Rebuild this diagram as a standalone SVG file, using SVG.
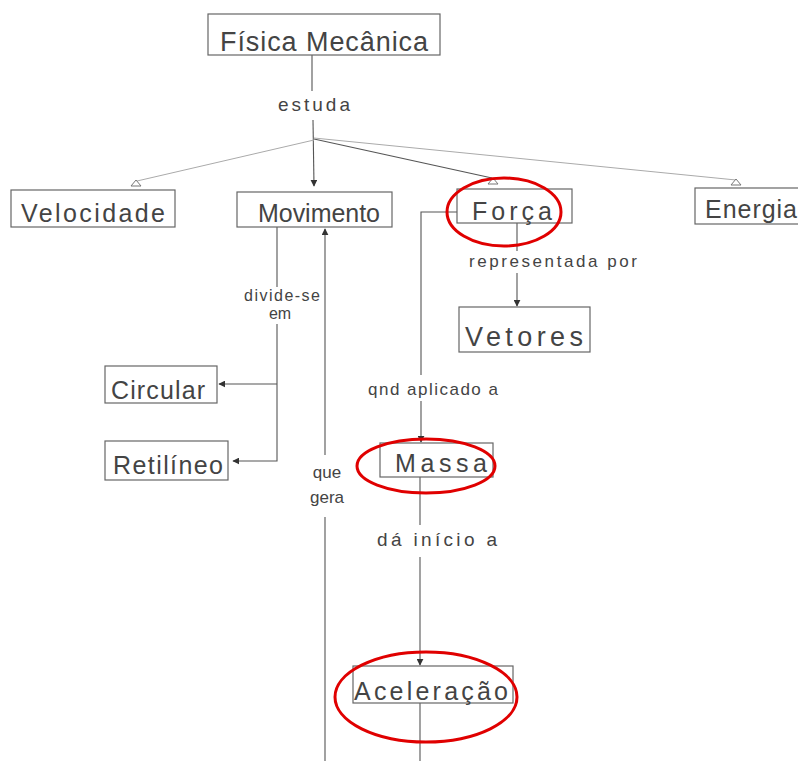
<svg xmlns="http://www.w3.org/2000/svg" width="798" height="761" viewBox="0 0 798 761">
  <style>
    .box { fill: none; stroke: #666; stroke-width: 1.2; }
    .node { font-family: "Liberation Sans", "DejaVu Sans", sans-serif; font-size: 25px; fill: #444; }
    .lbl { font-family: "Liberation Sans", "DejaVu Sans", sans-serif; font-size: 17px; fill: #444; }
    .big { font-size: 27px; }
    .mid { font-size: 19px; }
    .small { font-size: 16px; }
    .ln { fill: none; stroke: #555; stroke-width: 1.1; }
    .faint { fill: none; stroke: #aaa; stroke-width: 1; }
    .open { fill: #fff; stroke: #777; stroke-width: 1; }
    .mark { fill: none; stroke: #e00000; stroke-width: 3; }
  </style>
  <defs>
    <marker id="tip" viewBox="0 0 10 10" refX="9" refY="5" markerWidth="7" markerHeight="7" markerUnits="userSpaceOnUse" orient="auto">
      <path d="M0,0 L10,5 L0,10 Z" fill="#333"/>
    </marker>
    <path id="tri" d="M-5,3 L5,3 L0,-3 Z"/>
  </defs>
  <rect width="798" height="761" fill="#fff"/>

  <!-- connectors -->
  <g id="connectors">
    <!-- Física Mecânica -> estuda -> branches -->
    <line class="ln" x1="312" y1="55" x2="312" y2="91"/>
    <line class="ln" x1="313" y1="120" x2="314" y2="186" marker-end="url(#tip)"/>
    <line class="faint" x1="314" y1="140" x2="137" y2="181"/>
    <line class="ln" x1="314" y1="139" x2="492" y2="178"/>
    <line class="faint" x1="314" y1="138" x2="736" y2="180"/>
    <use href="#tri" class="open" x="136" y="183"/>
    <use href="#tri" class="open" x="493" y="181"/>
    <use href="#tri" class="open" x="736" y="182"/>

    <!-- Movimento -> divide-se em -> Circular / Retilíneo -->
    <line class="ln" x1="277" y1="227" x2="277" y2="287"/>
    <polyline class="ln" points="277,324 277,461 233,461" marker-end="url(#tip)"/>
    <line class="ln" x1="277" y1="384" x2="219" y2="384" marker-end="url(#tip)"/>

    <!-- que gera: up into Movimento -->
    <line class="ln" x1="325" y1="455" x2="325" y2="229" marker-end="url(#tip)"/>
    <line class="ln" x1="325" y1="517" x2="325" y2="761"/>

    <!-- Força -> representada por -> Vetores -->
    <line class="ln" x1="517" y1="223" x2="517" y2="251"/>
    <line class="ln" x1="517" y1="273" x2="517" y2="306" marker-end="url(#tip)"/>

    <!-- Força -> qnd aplicado a -> Massa -->
    <polyline class="ln" points="457,212 421,212 421,375"/>
    <line class="ln" x1="421" y1="401" x2="421" y2="442" marker-end="url(#tip)"/>

    <!-- Massa -> dá início a -> Aceleração -->
    <line class="ln" x1="420" y1="477" x2="420" y2="525"/>
    <line class="ln" x1="420" y1="557" x2="420" y2="665" marker-end="url(#tip)"/>
    <line class="ln" x1="420" y1="703" x2="420" y2="761"/>
  </g>

  <!-- connector labels -->
  <g id="labels">
    <text class="lbl mid" x="314" y="111" text-anchor="middle" textLength="72">estuda</text>
    <text class="lbl small" x="282" y="301" text-anchor="middle" textLength="76">divide-se</text>
    <text class="lbl small" x="280" y="319" text-anchor="middle">em</text>
    <text class="lbl" x="553" y="267" text-anchor="middle" textLength="168">representada por</text>
    <text class="lbl" x="433" y="395" text-anchor="middle" textLength="130">qnd aplicado a</text>
    <text class="lbl" x="327" y="478" text-anchor="middle">que</text>
    <text class="lbl" x="327" y="503" text-anchor="middle">gera</text>
    <text class="lbl mid" x="437" y="546" text-anchor="middle" textLength="120">dá início a</text>
  </g>

  <!-- nodes -->
  <g id="fisica-mecanica">
    <rect class="box" x="208" y="14" width="232" height="41"/>
    <text class="node big" x="324" y="51" text-anchor="middle" textLength="208">Física Mecânica</text>
  </g>
  <g id="velocidade">
    <rect class="box" x="11" y="190" width="164" height="37"/>
    <text class="node" x="93" y="222" text-anchor="middle" textLength="144">Velocidade</text>
  </g>
  <g id="movimento">
    <rect class="box" x="237" y="192" width="155" height="35"/>
    <text class="node" x="319" y="222" text-anchor="middle" textLength="122">Movimento</text>
  </g>
  <g id="forca">
    <rect class="box" x="457" y="189" width="115" height="34"/>
    <text class="node" x="512" y="220" text-anchor="middle" textLength="80">Força</text>
  </g>
  <g id="energia">
    <rect class="box" x="695" y="188" width="110" height="36"/>
    <text class="node" x="705" y="218" textLength="92">Energia</text>
  </g>
  <g id="vetores">
    <rect class="box" x="459" y="307" width="131" height="45"/>
    <text class="node big" x="524" y="346" text-anchor="middle" textLength="118">Vetores</text>
  </g>
  <g id="circular">
    <rect class="box" x="105" y="366" width="112" height="37"/>
    <text class="node" x="158" y="399" text-anchor="middle" textLength="94">Circular</text>
  </g>
  <g id="retilineo">
    <rect class="box" x="105" y="441" width="123" height="39"/>
    <text class="node" x="168" y="474" text-anchor="middle" textLength="110">Retilíneo</text>
  </g>
  <g id="massa">
    <rect class="box" x="380" y="443" width="113" height="34"/>
    <text class="node" x="441" y="472" text-anchor="middle" textLength="92">Massa</text>
  </g>
  <g id="aceleracao">
    <rect class="box" x="353" y="666" width="160" height="37"/>
    <text class="node" x="431" y="700" text-anchor="middle" textLength="154">Aceleração</text>
  </g>

  <!-- red highlight ellipses -->
  <g id="highlights">
    <ellipse class="mark" cx="504" cy="212" rx="57" ry="34"/>
    <ellipse class="mark" cx="426" cy="466" rx="69" ry="27"/>
    <ellipse class="mark" cx="426" cy="697" rx="91" ry="45"/>
  </g>
</svg>
